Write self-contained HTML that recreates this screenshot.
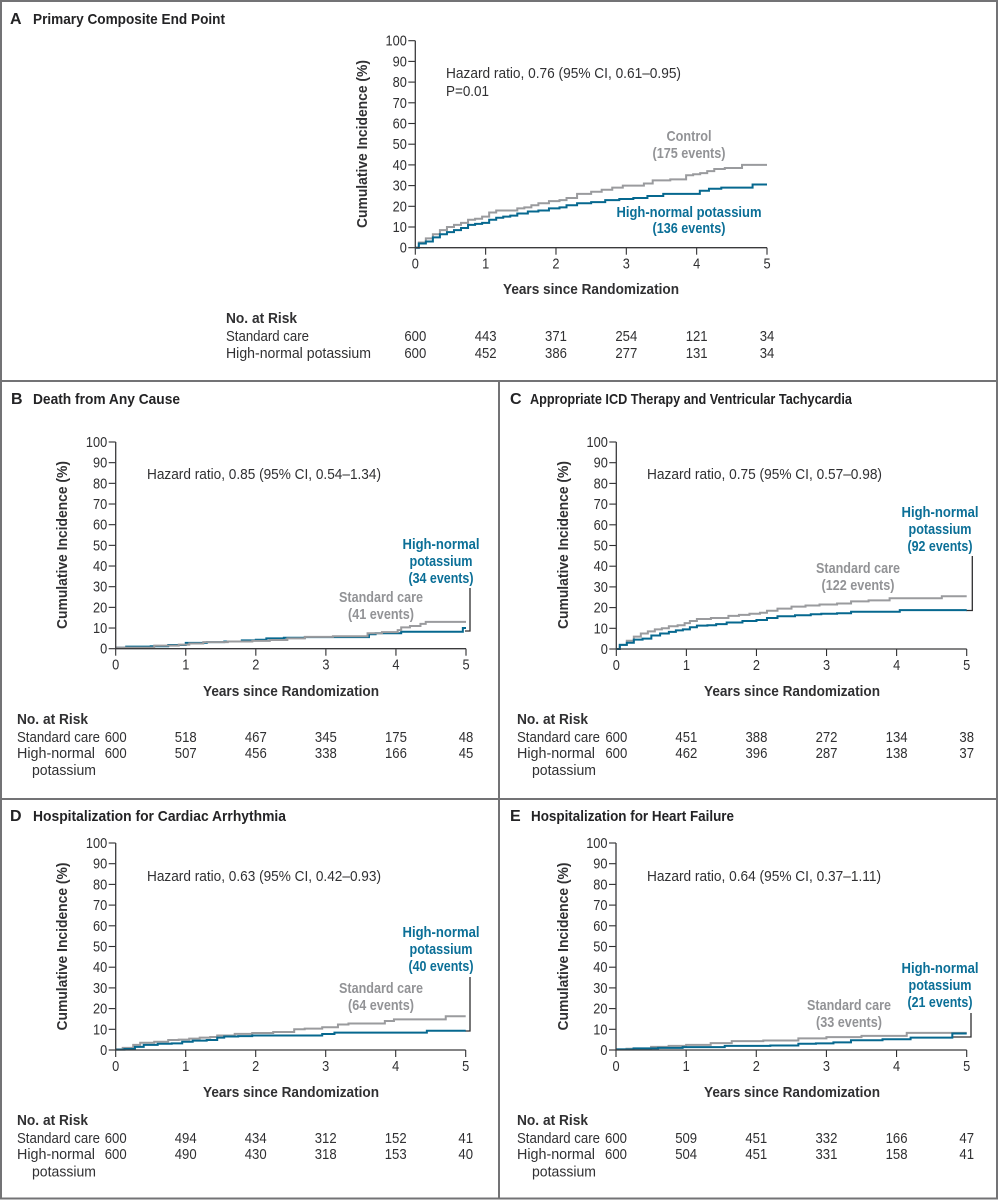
<!DOCTYPE html>
<html lang="en">
<head>
<meta charset="utf-8">
<title>Cumulative incidence by potassium target</title>
<style>
html,body{margin:0;padding:0;background:#fff;}
svg{display:block;font-family:"Liberation Sans",sans-serif;}
text{font-size:15px;fill:#303032;}
.b{font-weight:bold;}
.ttl{font-weight:bold;fill:#232325;}
.g{font-weight:bold;fill:#929396;}
.h{font-weight:bold;fill:#0b6f97;}
.m{text-anchor:middle;}
.line{fill:none;stroke:#2e2e30;stroke-width:1.3;}
.frame{fill:none;stroke:#737375;stroke-width:2;}
</style>
</head>
<body>
<svg id="figure" width="998" height="1200" viewBox="0 0 998 1200" xmlns="http://www.w3.org/2000/svg">
<rect x="0" y="0" width="998" height="1200" fill="#fff"/>
<path class="frame" d="M1 1H997V1198.500H1ZM1 381H997M1 799H997M499 381V1198.500"/>

<g id="panel-A">
<text class="ttl" x="10" y="24" style="font-size:16px">A</text>
<text class="ttl" x="33" y="24" textLength="192" lengthAdjust="spacingAndGlyphs">Primary Composite End Point</text>
<text class="b m" transform="translate(367,144) rotate(-90)" textLength="168" lengthAdjust="spacingAndGlyphs">Cumulative Incidence (%)</text>
<text class="b m" x="591" y="294" textLength="176" lengthAdjust="spacingAndGlyphs">Years since Randomization</text>
<text x="446" y="78" textLength="235" lengthAdjust="spacingAndGlyphs">Hazard ratio, 0.76 (95% CI, 0.61–0.95)</text>
<text x="446" y="96" textLength="43" lengthAdjust="spacingAndGlyphs">P=0.01</text>
<text class="g m" x="689" y="141" textLength="45" lengthAdjust="spacingAndGlyphs">Control</text>
<text class="g m" x="689" y="158" textLength="73" lengthAdjust="spacingAndGlyphs">(175 events)</text>
<text class="h m" x="689" y="217" textLength="145" lengthAdjust="spacingAndGlyphs">High-normal potassium</text>
<text class="h m" x="689" y="233" textLength="73" lengthAdjust="spacingAndGlyphs">(136 events)</text>
<text class="b" x="226" y="323" textLength="71" lengthAdjust="spacingAndGlyphs">No. at Risk</text>
<text x="226" y="341" textLength="83" lengthAdjust="spacingAndGlyphs">Standard care</text>
<text x="226" y="358" textLength="145" lengthAdjust="spacingAndGlyphs">High-normal potassium</text>
</g>

<g id="panel-B">
<text class="ttl" x="11" y="404" style="font-size:16px">B</text>
<text class="ttl" x="33" y="404" textLength="147" lengthAdjust="spacingAndGlyphs">Death from Any Cause</text>
<text class="b m" transform="translate(67,545) rotate(-90)" textLength="168" lengthAdjust="spacingAndGlyphs">Cumulative Incidence (%)</text>
<text class="b m" x="291" y="696" textLength="176" lengthAdjust="spacingAndGlyphs">Years since Randomization</text>
<text x="147" y="479" textLength="234" lengthAdjust="spacingAndGlyphs">Hazard ratio, 0.85 (95% CI, 0.54–1.34)</text>
<text class="h m" x="441" y="549" textLength="77" lengthAdjust="spacingAndGlyphs">High-normal</text>
<text class="h m" x="441" y="566" textLength="63" lengthAdjust="spacingAndGlyphs">potassium</text>
<text class="h m" x="441" y="583" textLength="65" lengthAdjust="spacingAndGlyphs">(34 events)</text>
<text class="g m" x="381" y="602" textLength="84" lengthAdjust="spacingAndGlyphs">Standard care</text>
<text class="g m" x="381" y="619" textLength="66" lengthAdjust="spacingAndGlyphs">(41 events)</text>
<path class="line" d="M470 588V631H465"/>
<text class="b" x="17" y="724" textLength="71" lengthAdjust="spacingAndGlyphs">No. at Risk</text>
<text x="17" y="742" textLength="83" lengthAdjust="spacingAndGlyphs">Standard care</text>
<text x="17" y="758" textLength="78" lengthAdjust="spacingAndGlyphs">High-normal</text>
<text x="32" y="775" textLength="64" lengthAdjust="spacingAndGlyphs">potassium</text>
</g>

<g id="panel-C">
<text class="ttl" x="510" y="404" style="font-size:16px">C</text>
<text class="ttl" x="530" y="404" textLength="322" lengthAdjust="spacingAndGlyphs">Appropriate ICD Therapy and Ventricular Tachycardia</text>
<text class="b m" transform="translate(568,545) rotate(-90)" textLength="168" lengthAdjust="spacingAndGlyphs">Cumulative Incidence (%)</text>
<text class="b m" x="792" y="696" textLength="176" lengthAdjust="spacingAndGlyphs">Years since Randomization</text>
<text x="647" y="479" textLength="235" lengthAdjust="spacingAndGlyphs">Hazard ratio, 0.75 (95% CI, 0.57–0.98)</text>
<text class="h m" x="940" y="517" textLength="77" lengthAdjust="spacingAndGlyphs">High-normal</text>
<text class="h m" x="940" y="534" textLength="63" lengthAdjust="spacingAndGlyphs">potassium</text>
<text class="h m" x="940" y="551" textLength="65" lengthAdjust="spacingAndGlyphs">(92 events)</text>
<text class="g m" x="858" y="573" textLength="84" lengthAdjust="spacingAndGlyphs">Standard care</text>
<text class="g m" x="858" y="590" textLength="73" lengthAdjust="spacingAndGlyphs">(122 events)</text>
<path class="line" d="M972.3 556V610.5H966"/>
<text class="b" x="517" y="724" textLength="71" lengthAdjust="spacingAndGlyphs">No. at Risk</text>
<text x="517" y="742" textLength="83" lengthAdjust="spacingAndGlyphs">Standard care</text>
<text x="517" y="758" textLength="78" lengthAdjust="spacingAndGlyphs">High-normal</text>
<text x="532" y="775" textLength="64" lengthAdjust="spacingAndGlyphs">potassium</text>
</g>

<g id="panel-D">
<text class="ttl" x="10" y="821" style="font-size:16px">D</text>
<text class="ttl" x="33" y="821" textLength="253" lengthAdjust="spacingAndGlyphs">Hospitalization for Cardiac Arrhythmia</text>
<text class="b m" transform="translate(67,946.5) rotate(-90)" textLength="168" lengthAdjust="spacingAndGlyphs">Cumulative Incidence (%)</text>
<text class="b m" x="291" y="1097" textLength="176" lengthAdjust="spacingAndGlyphs">Years since Randomization</text>
<text x="147" y="881" textLength="234" lengthAdjust="spacingAndGlyphs">Hazard ratio, 0.63 (95% CI, 0.42–0.93)</text>
<text class="h m" x="441" y="937" textLength="77" lengthAdjust="spacingAndGlyphs">High-normal</text>
<text class="h m" x="441" y="954" textLength="63" lengthAdjust="spacingAndGlyphs">potassium</text>
<text class="h m" x="441" y="971" textLength="65" lengthAdjust="spacingAndGlyphs">(40 events)</text>
<text class="g m" x="381" y="993" textLength="84" lengthAdjust="spacingAndGlyphs">Standard care</text>
<text class="g m" x="381" y="1010" textLength="66" lengthAdjust="spacingAndGlyphs">(64 events)</text>
<path class="line" d="M470 977V1031H465"/>
<text class="b" x="17" y="1125" textLength="71" lengthAdjust="spacingAndGlyphs">No. at Risk</text>
<text x="17" y="1143" textLength="83" lengthAdjust="spacingAndGlyphs">Standard care</text>
<text x="17" y="1159" textLength="78" lengthAdjust="spacingAndGlyphs">High-normal</text>
<text x="32" y="1176.500" textLength="64" lengthAdjust="spacingAndGlyphs">potassium</text>
</g>

<g id="panel-E">
<text class="ttl" x="510" y="821" style="font-size:16px">E</text>
<text class="ttl" x="531" y="821" textLength="203" lengthAdjust="spacingAndGlyphs">Hospitalization for Heart Failure</text>
<text class="b m" transform="translate(568,946.5) rotate(-90)" textLength="168" lengthAdjust="spacingAndGlyphs">Cumulative Incidence (%)</text>
<text class="b m" x="792" y="1097" textLength="176" lengthAdjust="spacingAndGlyphs">Years since Randomization</text>
<text x="647" y="881" textLength="234" lengthAdjust="spacingAndGlyphs">Hazard ratio, 0.64 (95% CI, 0.37–1.11)</text>
<text class="h m" x="940" y="973" textLength="77" lengthAdjust="spacingAndGlyphs">High-normal</text>
<text class="h m" x="940" y="990" textLength="63" lengthAdjust="spacingAndGlyphs">potassium</text>
<text class="h m" x="940" y="1007" textLength="65" lengthAdjust="spacingAndGlyphs">(21 events)</text>
<text class="g m" x="849" y="1010" textLength="84" lengthAdjust="spacingAndGlyphs">Standard care</text>
<text class="g m" x="849" y="1027" textLength="66" lengthAdjust="spacingAndGlyphs">(33 events)</text>
<path class="line" d="M971 1013V1037H952"/>
<text class="b" x="517" y="1125" textLength="71" lengthAdjust="spacingAndGlyphs">No. at Risk</text>
<text x="517" y="1143" textLength="83" lengthAdjust="spacingAndGlyphs">Standard care</text>
<text x="517" y="1159" textLength="78" lengthAdjust="spacingAndGlyphs">High-normal</text>
<text x="532" y="1176.500" textLength="64" lengthAdjust="spacingAndGlyphs">potassium</text>
</g>
</svg>

<script>
// Axis ticks and labels
const xTickValues = [0, 1, 2, 3, 4, 5];
const xTickLabels = ["0", "1", "2", "3", "4", "5"];
const yTickValues = [0, 10, 20, 30, 40, 50, 60, 70, 80, 90, 100];
const yTickLabels = ["0", "10", "20", "30", "40", "50", "60", "70", "80", "90", "100"];

// Panel A
const aGrayYears = [0, .1, .2, .3, .4, .5, .6, .7, .8, .9, 1, 1.1, 1.2, 1.4, 1.5, 1.6, 1.7, 1.8, 2, 2.1, 2.2, 2.4, 2.6, 2.7, 2.9, 3, 3.2, 3.3, 3.45, 3.8, 3.9, 4, 4.1, 4.2, 4.3, 4.5, 4.64, 4.65, 5];
const aGrayValues = [0, 2.5, 4.5, 6.5, 8.5, 10, 11, 12, 13.5, 14, 15, 17, 18, 18, 19, 19.5, 20.5, 21.5, 22.5, 23, 24, 26, 27, 28, 29, 30, 30, 31, 32.5, 33, 35, 35.5, 36, 37, 38, 38.5, 38.5, 40, 40];
const aBlueYears = [0, .1, .2, .3, .4, .5, .6, .7, .8, .9, 1, 1.1, 1.2, 1.3, 1.4, 1.5, 1.7, 1.8, 2, 2.1, 2.2, 2.4, 2.6, 2.8, 3, 3.2, 3.4, 3.65, 4.04, 4.05, 4.3, 4.4, 4.79, 4.8, 5];
const aBlueValues = [0, 2, 3, 5, 6.5, 7.5, 8.5, 9.5, 11, 11.5, 12, 13.5, 14.5, 15, 15.5, 16.5, 17.5, 18, 19, 19.5, 20.5, 21.5, 22, 23, 23.5, 24, 25, 26, 26, 27.5, 28.5, 29, 29, 30.5, 30.5];
const aRiskGray = [600, 443, 371, 254, 121, 34];
const aRiskBlue = [600, 452, 386, 277, 131, 34];

// Panel B
const bGrayYears = [0, .3, .8, 1, 1.1, 1.4, 1.8, 2.1, 2.3, 2.6, 2.8, 3.4, 3.59, 3.6, 4, 4.05, 4.1, 4.3, 4.4, 4.45, 5];
const bGrayValues = [.5, .5, 1.5, 2, 2.5, 3.2, 3.5, 3.8, 4.2, 5, 5.7, 6, 6, 7.5, 8, 9, 10.3, 11, 12, 13, 13];
const bBlueYears = [0, .3, .7, .8, 1.2, 1.4, 1.7, 1.9, 2.1, 2.2, 2.6, 2.8, 3.61, 3.62, 3.8, 4.35, 4.95, 4.96, 5];
const bBlueValues = [.5, 1, 1.2, 1.8, 2.8, 3.2, 3.5, 4, 4.3, 5, 5.3, 5.6, 5.6, 7, 7.5, 8.2, 8.2, 10, 10];
const bRiskGray = [600, 518, 467, 345, 175, 48];
const bRiskBlue = [600, 507, 456, 338, 166, 45];

// Panel C
const cGrayYears = [0, .1, .2, .3, .4, .5, .6, .7, .8, .95, 1, 1.1, 1.2, 1.5, 1.7, 1.8, 2, 2.1, 2.2, 2.4, 2.6, 2.8, 3, 3.3, 3.4, 3.8, 4, 4.64, 4.65, 5];
const cGrayValues = [0, 2, 4, 6, 7.5, 8.5, 9.5, 10, 11, 11.5, 12.5, 13.5, 14.5, 15, 16, 16.5, 17, 17.5, 18.5, 19.5, 20.5, 21, 21.5, 22, 23, 23.5, 24.5, 24.5, 25.5, 25.5];
const cBlueYears = [0, .1, .2, .3, .45, .55, .7, .8, .9, 1, 1.1, 1.2, 1.4, 1.45, 1.7, 1.9, 2.1, 2.2, 2.4, 2.7, 2.85, 3, 3.3, 3.4, 4.04, 4.05, 5];
const cBlueValues = [0, 2, 3, 4.5, 5, 6.5, 7.5, 8.3, 9, 9.5, 10.5, 11.3, 11.5, 12, 12.8, 13.5, 14, 15, 15.8, 16.3, 16.8, 17, 17.3, 18, 18, 18.8, 18.8];
const cRiskGray = [600, 451, 388, 272, 134, 38];
const cRiskBlue = [600, 462, 396, 287, 138, 37];

// Panel D
const dGrayYears = [0, .2, .3, .4, .7, .8, 1, 1.1, 1.3, 1.4, 1.5, 1.9, 2, 2.5, 2.6, 2.8, 3.1, 3.25, 3.4, 3.84, 3.85, 4.1, 4.71, 4.72, 5];
const dGrayValues = [.3, 1, 2.5, 3.5, 4, 4.8, 5, 5.5, 6, 6.3, 7, 7.8, 8.2, 8.7, 10, 10.3, 11, 12.3, 12.8, 12.8, 14, 14.8, 14.8, 16.3, 16.3];
const dBlueYears = [0, .25, .3, .5, .7, .9, 1, 1.2, 1.4, 1.5, 1.6, 1.9, 2, 2.9, 3, 3.25, 4.44, 4.45, 5];
const dBlueValues = [.2, .5, 1.5, 2.5, 3, 3.2, 4, 4.5, 4.8, 6, 6.5, 6.7, 7, 7, 7.7, 8.4, 8.4, 9.3, 9.3];
const dRiskGray = [600, 494, 434, 312, 152, 41];
const dRiskBlue = [600, 490, 430, 318, 153, 40];

// Panel E
const eGrayYears = [0, .3, .7, .8, 1.2, 1.5, 1.8, 2.4, 2.8, 3.2, 3.8, 4.14, 4.15, 5];
const eGrayValues = [.3, .6, 1.5, 2, 2.5, 3.3, 4.3, 4.6, 5.6, 6.2, 6.8, 6.8, 8.3, 8.3];
const eBlueYears = [0, .5, .7, 1.2, 1.9, 2.5, 2.7, 3, 3.2, 3.5, 4.1, 4.3, 4.79, 4.8, 5];
const eBlueValues = [.3, .8, 1, 1.4, 2, 2.2, 3, 3.2, 3.7, 4.7, 5.2, 6, 6, 8, 8];
const eRiskGray = [600, 509, 451, 332, 166, 47];
const eRiskBlue = [600, 504, 451, 331, 158, 41];

const GRAY = "#9a9b9e";
const BLUE = "#06688f";
const NS = "http://www.w3.org/2000/svg";

function makeXScale(frame) {
  return function (t) { return frame.x0 + (frame.x5 - frame.x0) * t / 5; };
}
function makeYScale(frame) {
  return function (v) { return frame.y0 - (frame.y0 - frame.y100) * v / 100; };
}
function stepPath(years, values, x, y) {
  let d = "M" + x(years[0]).toFixed(2) + " " + y(values[0]).toFixed(2);
  for (let i = 1; i < years.length; i++) {
    const mid = (x(years[i - 1]) + x(years[i])) / 2;
    d += "H" + mid.toFixed(2) + "V" + y(values[i]).toFixed(2) + "H" + x(years[i]).toFixed(2);
  }
  return d;
}
function addPath(parent, d, stroke, width) {
  const el = document.createElementNS(NS, "path");
  el.setAttribute("d", d);
  el.setAttribute("fill", "none");
  el.setAttribute("stroke", stroke);
  el.setAttribute("stroke-width", width);
  parent.appendChild(el);
  return el;
}
function addText(parent, str, x, y, anchor, perChar) {
  const el = document.createElementNS(NS, "text");
  el.textContent = str;
  el.setAttribute("x", x);
  el.setAttribute("y", y);
  el.setAttribute("text-anchor", anchor);
  el.setAttribute("textLength", (str.length * perChar).toFixed(1));
  el.setAttribute("lengthAdjust", "spacingAndGlyphs");
  parent.appendChild(el);
  return el;
}

function drawGray(g, years, values, x, y) {
  const line = addPath(g, stepPath(years, values, x, y), GRAY, 2);
  
  
}
function drawBlue(g, years, values, x, y) {
  const line = addPath(g, stepPath(years, values, x, y), BLUE, 2);
  
  
}

function drawPanel(id, frame, grayYears, grayValues, blueYears, blueValues, riskGray, riskBlue, riskY, grayOnTop) {
  const g = document.getElementById(id);
  const x = makeXScale(frame);
  const y = makeYScale(frame);

  yTickValues.forEach(function (v, i) {
    const tick = addPath(g, "M" + (frame.x0 - 7) + " " + y(v) + "H" + frame.x0, "#2e2e30", 1.1);
    
    
    const label = addText(g, yTickLabels[i], frame.x0 - 8.5, y(v) + 5, "end", 7.1);
    
    
  });
  xTickValues.forEach(function (t, i) {
    const tick = addPath(g, "M" + x(t) + " " + frame.y0 + "V" + (frame.y0 + 7), "#2e2e30", 1.1);
    
    
    const label = addText(g, xTickLabels[i], x(t), frame.y0 + 21, "middle", 7.1);
    
    
  });

  if (grayOnTop) {
    drawBlue(g, blueYears, blueValues, x, y);
    drawGray(g, grayYears, grayValues, x, y);
  } else {
    drawGray(g, grayYears, grayValues, x, y);
    drawBlue(g, blueYears, blueValues, x, y);
  }

  const axes = addPath(g, "M" + frame.x0 + " " + frame.y100 + "V" + frame.y0 + "H" + frame.x5, "#3a3a3c", 1.3);
  
  

  xTickValues.forEach(function (t, i) {
    const top = addText(g, String(riskGray[i]), x(t), riskY[0], "middle", 7.3);
    
    
    const bottom = addText(g, String(riskBlue[i]), x(t), riskY[1], "middle", 7.3);
    
    
  });
}

drawPanel("panel-A", {x0: 415.3, x5: 767, y0: 247.7, y100: 40.7}, aGrayYears, aGrayValues, aBlueYears, aBlueValues, aRiskGray, aRiskBlue, [341, 358], false);
drawPanel("panel-B", {x0: 115.7, x5: 466, y0: 648.7, y100: 442}, bGrayYears, bGrayValues, bBlueYears, bBlueValues, bRiskGray, bRiskBlue, [742, 758], true);
drawPanel("panel-C", {x0: 616.3, x5: 966.7, y0: 649, y100: 442}, cGrayYears, cGrayValues, cBlueYears, cBlueValues, cRiskGray, cRiskBlue, [742, 758], false);
drawPanel("panel-D", {x0: 115.7, x5: 465.7, y0: 1050, y100: 843}, dGrayYears, dGrayValues, dBlueYears, dBlueValues, dRiskGray, dRiskBlue, [1143, 1159], false);
drawPanel("panel-E", {x0: 616, x5: 966.7, y0: 1050, y100: 843}, eGrayYears, eGrayValues, eBlueYears, eBlueValues, eRiskGray, eRiskBlue, [1143, 1159], false);
</script>
</body>
</html>
